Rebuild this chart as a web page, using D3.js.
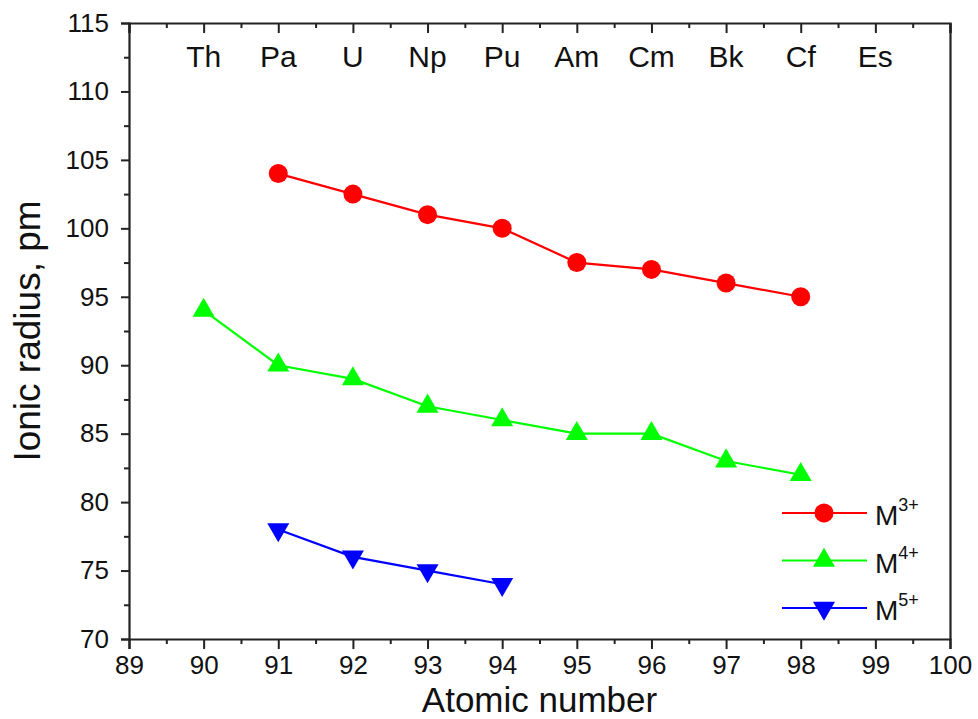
<!DOCTYPE html>
<html>
<head>
<meta charset="utf-8">
<script src="https://cdn.jsdelivr.net/npm/d3@7"></script>
<style>
  body { margin: 0; background: #fff; }
  svg { font-family: "Liberation Sans", Arial, sans-serif; }
</style>
</head>
<body>
<div id="chart"></div>
<script>
// data
var atomicNumbers3 = [91, 92, 93, 94, 95, 96, 97, 98];
var radii3 = [104, 102.5, 101, 100, 97.5, 97, 96, 95];
var atomicNumbers4 = [90, 91, 92, 93, 94, 95, 96, 97, 98];
var radii4 = [94, 90, 89, 87, 86, 85, 85, 83, 82];
var atomicNumbers5 = [91, 92, 93, 94];
var radii5 = [78, 76, 75, 74];
var elements = ["Th", "Pa", "U", "Np", "Pu", "Am", "Cm", "Bk", "Cf", "Es"];
var elementNumbers = [90, 91, 92, 93, 94, 95, 96, 97, 98, 99];
var xTicks = [89, 90, 91, 92, 93, 94, 95, 96, 97, 98, 99, 100];
var yTicks = [70, 75, 80, 85, 90, 95, 100, 105, 110, 115];

var series = [
  {name: "3+", xs: atomicNumbers3, ys: radii3, color: "#ff0000", marker: "circle"},
  {name: "4+", xs: atomicNumbers4, ys: radii4, color: "#00ff00", marker: "up"},
  {name: "5+", xs: atomicNumbers5, ys: radii5, color: "#0000ff", marker: "down"}
];

var margin = {top: 23, right: 28, bottom: 80, left: 129};
var width = 978 - margin.left - margin.right;
var height = 719 - margin.top - margin.bottom;

var svg = d3.select("#chart").append("svg")
  .attr("width", 978)
  .attr("height", 719)
  .append("g")
  .attr("transform", "translate(" + margin.left + "," + margin.top + ")");

var x = d3.scaleLinear().domain([89, 100]).range([0, width]);
var y = d3.scaleLinear().domain([70, 115]).range([height, 0]);

var minorX = d3.range(89.5, 100, 1);
var minorY = d3.range(72.5, 115, 5);

// bottom axis
svg.append("g")
  .attr("transform", "translate(0," + height + ")")
  .call(d3.axisBottom(x).tickValues(xTicks).tickSize(10).tickPadding(7).tickFormat(d3.format("d")));
svg.append("g")
  .attr("transform", "translate(0," + height + ")")
  .call(d3.axisBottom(x).tickValues(minorX).tickSize(5).tickFormat(""))
  .select(".domain").remove();

// top axis, ticks point inward
svg.append("g")
  .call(d3.axisBottom(x).tickValues(xTicks).tickSize(10).tickFormat(""));
svg.append("g")
  .call(d3.axisBottom(x).tickValues(minorX).tickSize(5).tickFormat(""))
  .select(".domain").remove();

// left axis
svg.append("g")
  .call(d3.axisLeft(y).tickValues(yTicks).tickSize(8).tickPadding(12));
svg.append("g")
  .call(d3.axisLeft(y).tickValues(minorY).tickSize(5).tickFormat(""))
  .select(".domain").remove();

// right axis, line only
svg.append("g")
  .attr("transform", "translate(" + width + ",0)")
  .call(d3.axisRight(y).tickValues([]).tickSizeOuter(0));

svg.selectAll(".domain").attr("stroke", "#222").attr("stroke-width", 2.2);
svg.selectAll(".tick line").attr("stroke", "#222").attr("stroke-width", 2);
svg.selectAll(".tick text").attr("font-size", 26).attr("fill", "#111")
  .attr("font-family", "Liberation Sans, Arial, sans-serif");

// element symbols along the top
svg.selectAll(".elem")
  .data(elements)
  .enter().append("text")
  .attr("class", "elem")
  .attr("x", function(d, i) { return x(elementNumbers[i]); })
  .attr("y", 44)
  .attr("text-anchor", "middle")
  .attr("font-size", 30)
  .attr("fill", "#111")
  .text(function(d) { return d; });

// axis titles
svg.append("text")
  .attr("x", x(94.5))
  .attr("y", height + 73)
  .attr("text-anchor", "middle")
  .attr("font-size", 35)
  .attr("fill", "#111")
  .text("Atomic number");

svg.append("text")
  .attr("transform", "rotate(-90)")
  .attr("x", -y(92.5))
  .attr("y", -89)
  .attr("text-anchor", "middle")
  .attr("font-size", 37)
  .attr("fill", "#111")
  .text("Ionic radius, pm");

var triangle = d3.symbol().type(d3.symbolTriangle).size(210);

function drawMarker(g, s, cx, cy) {
  if (s.marker == "circle") {
    g.append("circle").attr("cx", cx).attr("cy", cy).attr("r", 9.5).attr("fill", s.color);
  } else {
    g.append("path")
      .attr("d", triangle())
      .attr("transform", "translate(" + cx + "," + cy + ")" + (s.marker == "down" ? " rotate(180)" : ""))
      .attr("fill", s.color);
  }
}

var line = d3.line()
  .x(function(d) { return x(d[0]); })
  .y(function(d) { return y(d[1]); });

series.forEach(function(s) {
  var pts = s.xs.map(function(v, i) { return [v, s.ys[i]]; });
  svg.append("path")
    .datum(pts)
    .attr("d", line)
    .attr("fill", "none")
    .attr("stroke", s.color)
    .attr("stroke-width", 2.2);
  var g = svg.append("g");
  pts.forEach(function(p) { drawMarker(g, s, x(p[0]), y(p[1])); });
});

// legend
var legend = svg.append("g").attr("transform", "translate(" + (782 - margin.left) + "," + (513 - margin.top) + ")");
series.forEach(function(s, i) {
  var row = legend.append("g").attr("transform", "translate(0," + (i * 47.5) + ")");
  row.append("line").attr("x1", 0).attr("x2", 85).attr("y1", 0).attr("y2", 0)
    .attr("stroke", s.color).attr("stroke-width", 2.2);
  drawMarker(row, s, 42, 0);
  var t = row.append("text").attr("x", 93).attr("y", 12).attr("font-size", 28).attr("fill", "#111");
  t.append("tspan").text("M");
  t.append("tspan").attr("dy", -14).attr("font-size", 18).text(s.name);
});
</script>
</body>
</html>
